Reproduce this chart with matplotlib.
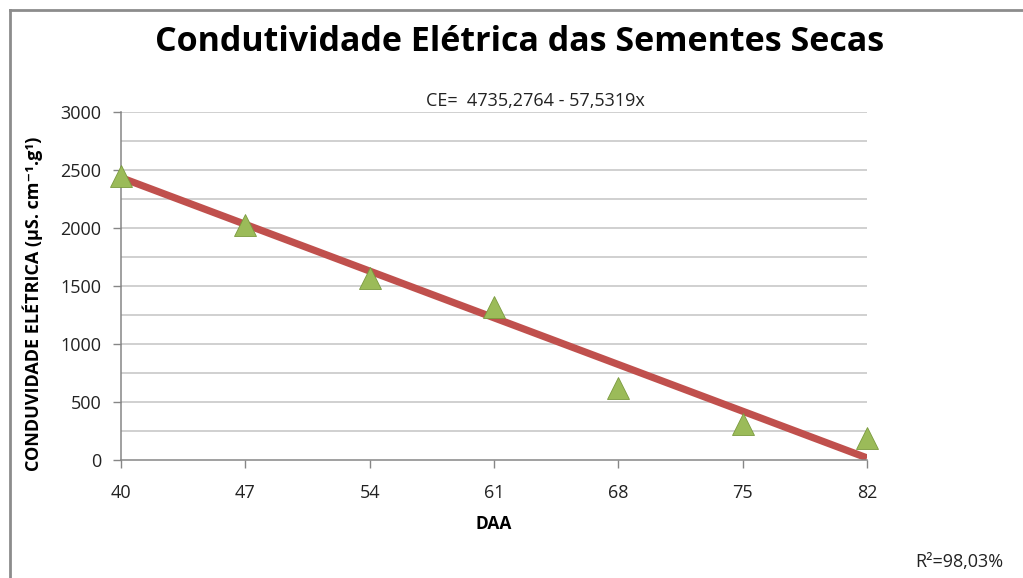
import numpy as np
from matplotlib import pyplot as plt
from matplotlib.lines import Line2D

# dados
daa = [40, 47, 54, 61, 68, 75, 82]
ce = [2450, 2030, 1570, 1320, 620, 310, 190]
intercept = 4735.2764
slope = -57.5319

plt.rcParams["font.family"] = ["Open Sans", "DejaVu Sans"]

fig = plt.figure(figsize=(10.23, 5.78), dpi=100)
ax = fig.add_axes([0.1183, 0.2042, 0.7292, 0.602])

# grade a cada 250
for v in np.arange(250, 3001, 250):
    ax.axhline(v, color="#c4c4c4", lw=1.1, zorder=0)

x_fit = np.array([daa[0], daa[-1]])
ax.plot(x_fit, intercept + slope * x_fit, color="#c0504d", lw=5.2, solid_capstyle="butt", zorder=2)
ax.plot(daa, ce, linestyle="none", marker="^", markersize=16, color="#9bbb59",
        markeredgecolor="#7a9a3e", markeredgewidth=0.6, zorder=3, clip_on=False)

ax.set_xlim(40, 82)
ax.set_ylim(0, 3000)
ax.set_xticks(daa)
ax.set_xticklabels([str(d) for d in daa])
ax.set_yticks(np.arange(0, 3001, 500))
ax.tick_params(axis="both", labelsize=13, colors="#868686", labelcolor="#222222",
               direction="out", length=6, width=1)
ax.tick_params(axis="x", pad=11)
ax.tick_params(axis="y", pad=8)
for side in ["top", "right"]:
    ax.spines[side].set_visible(False)
for side in ["left", "bottom"]:
    ax.spines[side].set_color("#868686")
    ax.spines[side].set_linewidth(1.1)

ax.set_xlabel("DAA", fontsize=12.5, fontweight="bold", labelpad=10)
ax.set_ylabel("CONDUVIDADE ELÉTRICA (µS. cm⁻¹.g¹)", fontsize=13, fontweight="bold")
ax.yaxis.set_label_coords(-0.104, 0.45)

fig.text(0.508, 0.927, "Condutividade Elétrica das Sementes Secas", ha="center", va="center",
         fontsize=24.5, fontweight="bold")
fig.text(0.523, 0.826, "CE=  4735,2764 - 57,5319x", ha="center", va="center", fontsize=13, color="#222222")
fig.text(0.938, 0.027, "R²=98,03%", ha="center", va="center", fontsize=13, color="#222222")

# moldura do grafico
fig.add_artist(Line2D([10 / 1023, 10 / 1023], [0, 1 - 10 / 578], transform=fig.transFigure, color="#8c8c8c", lw=2))
fig.add_artist(Line2D([10 / 1023, 1], [1 - 10 / 578, 1 - 10 / 578], transform=fig.transFigure, color="#8c8c8c", lw=2))

plt.savefig("out.png", dpi=100)
